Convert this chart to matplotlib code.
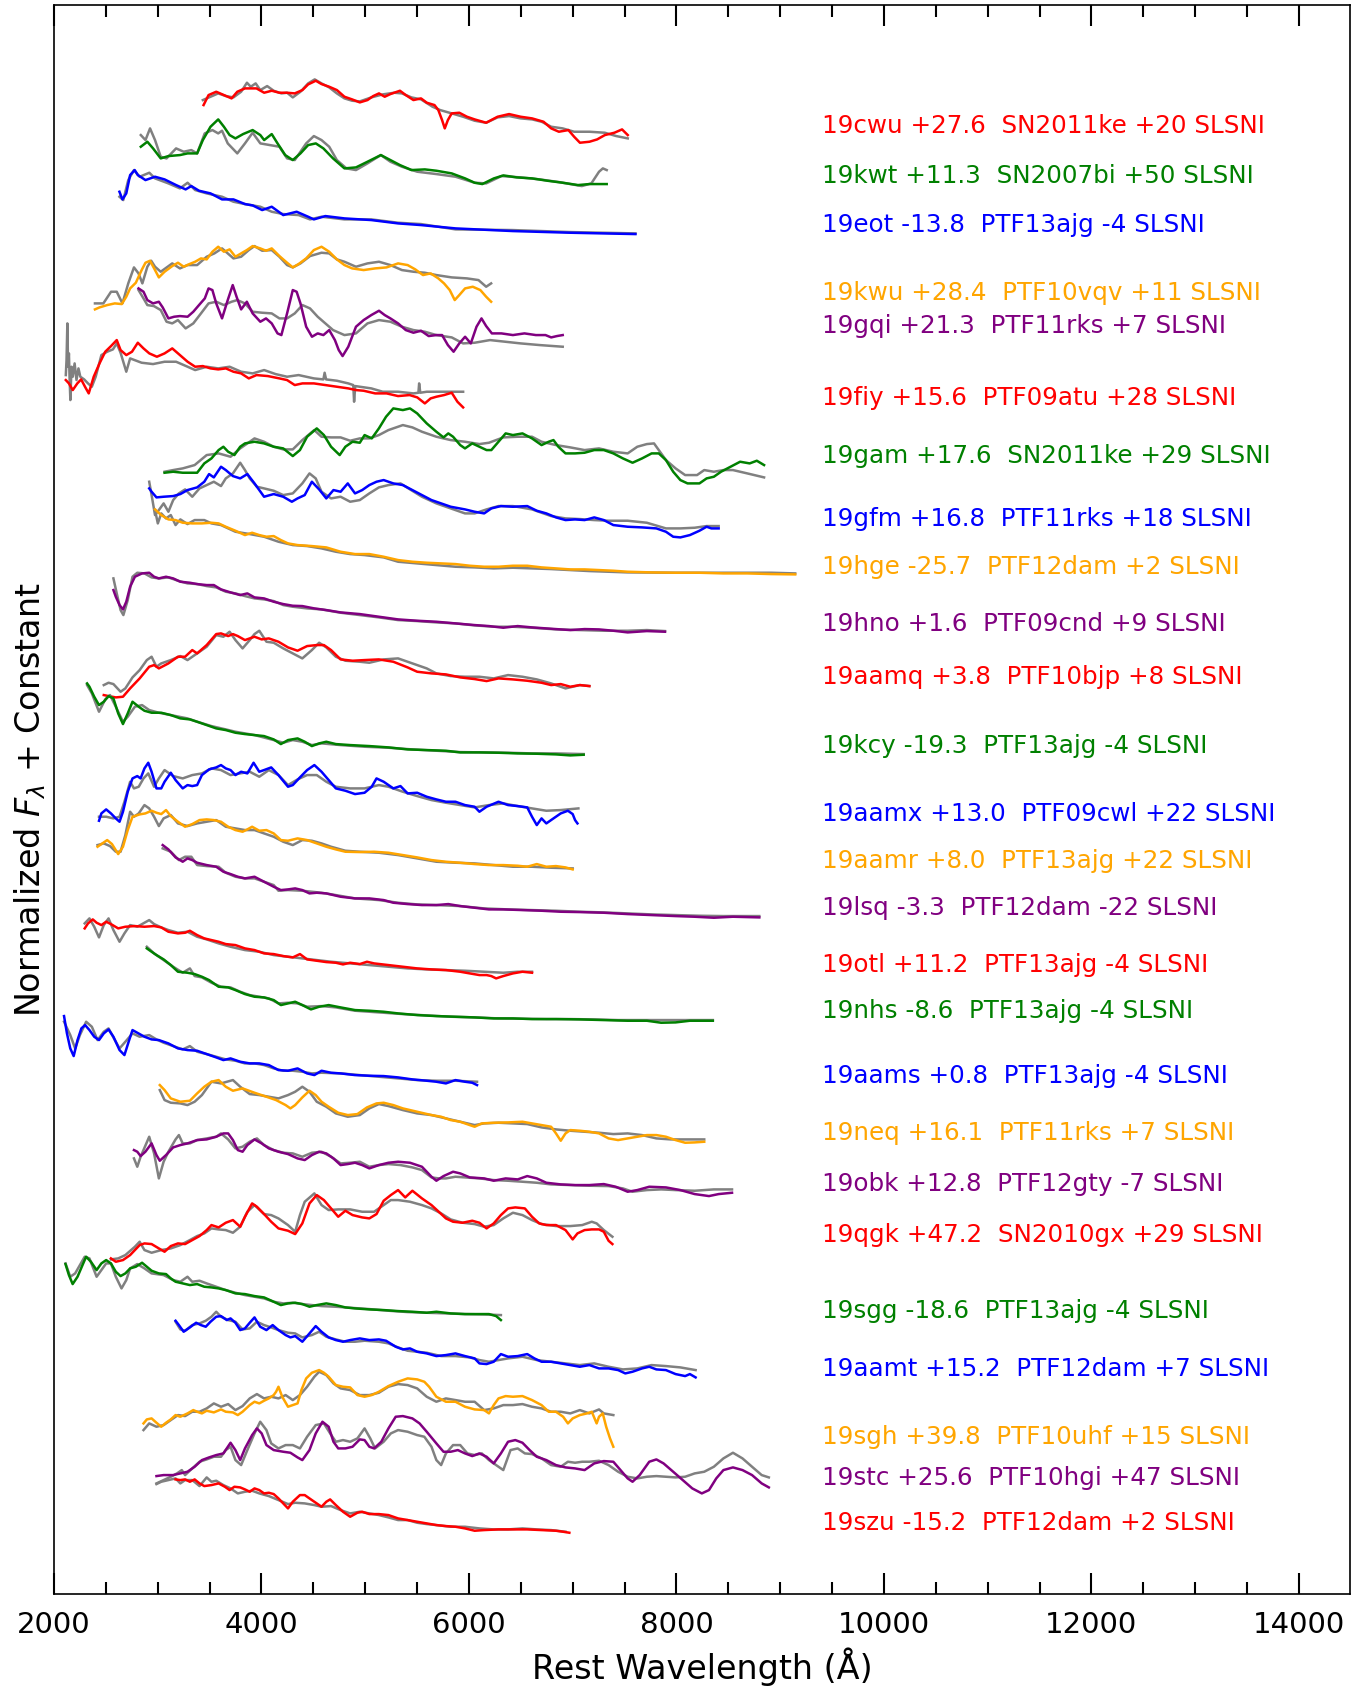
import sys
import numpy as np
import matplotlib
matplotlib.use("Agg")
import matplotlib.pyplot as plt
from matplotlib.ticker import MultipleLocator

# rest wavelength (A) and normalized flux for each object (w, f) and its template (tw, tf)

# 19cwu / SN2011ke
cwu_w = [3442, 3490, 3564, 3638, 3712, 3767, 3841, 3952, 4026, 4099, 4173, 4247, 4321, 4395, 4450, 4524, 4579, 4653, 4727, 4800, 4874, 4948, 5022, 5077, 5133, 5188, 5243, 5335, 5391, 5465, 5538, 5594, 5668, 5705, 5741, 5767, 5797, 5834, 5907, 5981, 6055, 6166, 6276, 6387, 6498, 6609, 6719, 6793, 6867, 6959, 7014, 7070, 7162, 7236, 7310, 7402, 7476, 7531]
cwu_f = [0.865, 0.895, 0.905, 0.895, 0.885, 0.905, 0.915, 0.915, 0.902, 0.908, 0.902, 0.902, 0.900, 0.910, 0.927, 0.938, 0.928, 0.920, 0.910, 0.890, 0.882, 0.873, 0.880, 0.892, 0.900, 0.890, 0.898, 0.908, 0.895, 0.880, 0.885, 0.872, 0.865, 0.850, 0.820, 0.795, 0.820, 0.840, 0.842, 0.830, 0.822, 0.812, 0.830, 0.838, 0.830, 0.825, 0.815, 0.795, 0.785, 0.790, 0.770, 0.752, 0.755, 0.762, 0.775, 0.782, 0.792, 0.775]
cwu_tw = [3435, 3509, 3583, 3657, 3730, 3804, 3860, 3897, 3944, 3989, 4055, 4118, 4192, 4247, 4302, 4376, 4450, 4513, 4579, 4653, 4727, 4800, 4874, 4948, 5059, 5169, 5280, 5354, 5446, 5538, 5649, 5723, 5834, 5944, 6055, 6166, 6276, 6387, 6498, 6609, 6701, 6793, 6904, 7014, 7162, 7310, 7420, 7531]
cwu_tf = [0.880, 0.890, 0.900, 0.892, 0.888, 0.905, 0.932, 0.920, 0.930, 0.910, 0.922, 0.908, 0.900, 0.902, 0.888, 0.905, 0.930, 0.942, 0.930, 0.918, 0.900, 0.885, 0.878, 0.876, 0.888, 0.897, 0.902, 0.900, 0.888, 0.882, 0.860, 0.850, 0.840, 0.830, 0.818, 0.812, 0.828, 0.832, 0.825, 0.822, 0.815, 0.800, 0.795, 0.785, 0.785, 0.782, 0.772, 0.765]

# 19kwt / SN2007bi
kwt_w = [2837, 2900, 2955, 3029, 3103, 3214, 3288, 3380, 3435, 3509, 3583, 3638, 3693, 3749, 3823, 3915, 3989, 4026, 4099, 4155, 4229, 4302, 4376, 4450, 4524, 4597, 4690, 4800, 4911, 5022, 5151, 5243, 5335, 5446, 5575, 5686, 5834, 5963, 6055, 6129, 6240, 6332, 6461, 6609, 6756, 6904, 7051, 7162, 7328]
kwt_f = [0.740, 0.755, 0.735, 0.705, 0.712, 0.715, 0.720, 0.720, 0.760, 0.800, 0.822, 0.800, 0.775, 0.765, 0.778, 0.790, 0.775, 0.760, 0.778, 0.750, 0.715, 0.700, 0.720, 0.745, 0.750, 0.735, 0.705, 0.675, 0.678, 0.695, 0.715, 0.700, 0.685, 0.670, 0.672, 0.668, 0.660, 0.645, 0.632, 0.628, 0.645, 0.654, 0.648, 0.645, 0.638, 0.632, 0.625, 0.628, 0.628]
kwt_tw = [2837, 2882, 2926, 2974, 3029, 3085, 3177, 3251, 3324, 3380, 3453, 3527, 3583, 3620, 3675, 3767, 3841, 3915, 3989, 4081, 4173, 4247, 4321, 4431, 4505, 4579, 4653, 4727, 4819, 4911, 5022, 5151, 5243, 5354, 5502, 5686, 5871, 6055, 6166, 6313, 6498, 6682, 6867, 7088, 7180, 7254, 7291, 7328]
kwt_tf = [0.775, 0.760, 0.795, 0.760, 0.710, 0.705, 0.735, 0.725, 0.730, 0.720, 0.780, 0.790, 0.780, 0.788, 0.750, 0.720, 0.750, 0.782, 0.750, 0.745, 0.740, 0.705, 0.700, 0.750, 0.772, 0.760, 0.740, 0.700, 0.675, 0.670, 0.690, 0.715, 0.695, 0.680, 0.665, 0.658, 0.650, 0.632, 0.630, 0.652, 0.648, 0.642, 0.634, 0.622, 0.630, 0.665, 0.675, 0.670]

# 19eot / PTF13ajg
eot_w = [2631, 2660, 2697, 2734, 2778, 2808, 2882, 2974, 3066, 3177, 3269, 3324, 3398, 3509, 3620, 3730, 3841, 3915, 4007, 4099, 4210, 4339, 4450, 4505, 4616, 4800, 5059, 5317, 5538, 5871, 6424, 6978, 7605]
eot_f = [0.605, 0.582, 0.600, 0.655, 0.670, 0.655, 0.640, 0.650, 0.642, 0.625, 0.612, 0.622, 0.608, 0.600, 0.582, 0.582, 0.568, 0.564, 0.550, 0.560, 0.535, 0.545, 0.530, 0.522, 0.532, 0.525, 0.520, 0.510, 0.505, 0.495, 0.487, 0.482, 0.478]
eot_tw = [2631, 2668, 2716, 2771, 2826, 2919, 2974, 3103, 3214, 3288, 3361, 3472, 3620, 3730, 3841, 3989, 4099, 4210, 4358, 4468, 4579, 4800, 5059, 5317, 5538, 5871, 6424, 6978, 7605]
eot_tf = [0.590, 0.580, 0.640, 0.670, 0.650, 0.662, 0.645, 0.630, 0.615, 0.632, 0.610, 0.600, 0.590, 0.575, 0.568, 0.560, 0.545, 0.538, 0.535, 0.522, 0.530, 0.522, 0.522, 0.512, 0.508, 0.492, 0.490, 0.484, 0.480]

# 19kwu / PTF10vqv
kwu_w = [2395, 2439, 2513, 2586, 2653, 2697, 2734, 2789, 2845, 2882, 2926, 2974, 3011, 3066, 3140, 3195, 3251, 3306, 3361, 3417, 3472, 3527, 3583, 3638, 3693, 3749, 3804, 3859, 3915, 3989, 4044, 4099, 4173, 4247, 4302, 4358, 4431, 4505, 4579, 4653, 4727, 4800, 4874, 4985, 5096, 5206, 5317, 5409, 5483, 5557, 5631, 5705, 5760, 5815, 5863, 5907, 5963, 6037, 6110, 6166, 6214]
kwu_f = [0.732, 0.738, 0.745, 0.750, 0.748, 0.770, 0.795, 0.812, 0.850, 0.872, 0.878, 0.850, 0.828, 0.845, 0.862, 0.872, 0.860, 0.868, 0.875, 0.885, 0.882, 0.905, 0.920, 0.905, 0.912, 0.890, 0.900, 0.910, 0.922, 0.915, 0.908, 0.915, 0.892, 0.872, 0.858, 0.868, 0.885, 0.910, 0.920, 0.905, 0.882, 0.865, 0.855, 0.850, 0.855, 0.858, 0.870, 0.865, 0.852, 0.835, 0.840, 0.825, 0.810, 0.790, 0.760, 0.775, 0.795, 0.800, 0.790, 0.770, 0.755]
kwu_tw = [2395, 2476, 2550, 2605, 2660, 2716, 2771, 2815, 2852, 2900, 2937, 2974, 3029, 3140, 3214, 3288, 3380, 3472, 3546, 3620, 3675, 3730, 3804, 3878, 3933, 4007, 4099, 4173, 4247, 4302, 4376, 4468, 4579, 4653, 4727, 4800, 4911, 5022, 5133, 5243, 5354, 5465, 5575, 5686, 5834, 5981, 6092, 6166, 6214]
kwu_tf = [0.750, 0.750, 0.785, 0.785, 0.750, 0.810, 0.858, 0.840, 0.810, 0.860, 0.878, 0.860, 0.845, 0.870, 0.855, 0.865, 0.865, 0.890, 0.900, 0.915, 0.900, 0.885, 0.890, 0.910, 0.922, 0.908, 0.910, 0.890, 0.865, 0.858, 0.870, 0.892, 0.902, 0.900, 0.882, 0.875, 0.860, 0.870, 0.875, 0.865, 0.850, 0.845, 0.842, 0.835, 0.828, 0.825, 0.820, 0.800, 0.810]

# 19gqi / PTF11rks
gqi_w = [2815, 2863, 2900, 2955, 3011, 3048, 3103, 3158, 3214, 3288, 3343, 3398, 3454, 3490, 3527, 3564, 3620, 3675, 3723, 3760, 3804, 3859, 3915, 3989, 4044, 4099, 4155, 4192, 4247, 4302, 4339, 4376, 4431, 4487, 4542, 4597, 4653, 4708, 4745, 4782, 4837, 4911, 4985, 5059, 5133, 5188, 5243, 5317, 5391, 5465, 5538, 5612, 5686, 5741, 5797, 5852, 5907, 5963, 6018, 6073, 6121, 6166, 6221, 6313, 6424, 6535, 6645, 6738, 6793, 6848, 6904]
gqi_f = [0.795, 0.785, 0.760, 0.750, 0.755, 0.738, 0.705, 0.710, 0.712, 0.710, 0.725, 0.745, 0.765, 0.795, 0.790, 0.750, 0.705, 0.760, 0.805, 0.770, 0.732, 0.755, 0.720, 0.695, 0.705, 0.690, 0.660, 0.655, 0.720, 0.790, 0.785, 0.750, 0.680, 0.650, 0.660, 0.655, 0.670, 0.640, 0.610, 0.592, 0.620, 0.680, 0.700, 0.715, 0.728, 0.715, 0.705, 0.690, 0.670, 0.662, 0.668, 0.652, 0.655, 0.655, 0.625, 0.605, 0.630, 0.650, 0.630, 0.680, 0.705, 0.682, 0.660, 0.660, 0.655, 0.660, 0.655, 0.655, 0.648, 0.652, 0.655]
gqi_tw = [2815, 2863, 2900, 2963, 3029, 3085, 3140, 3195, 3269, 3343, 3417, 3490, 3564, 3638, 3712, 3767, 3841, 3915, 4007, 4099, 4173, 4247, 4321, 4395, 4468, 4542, 4616, 4690, 4800, 4911, 5022, 5133, 5243, 5354, 5465, 5575, 5686, 5834, 5944, 6055, 6203, 6350, 6498, 6682, 6904]
gqi_tf = [0.790, 0.765, 0.745, 0.742, 0.730, 0.695, 0.690, 0.700, 0.675, 0.690, 0.720, 0.750, 0.755, 0.745, 0.755, 0.760, 0.750, 0.725, 0.722, 0.720, 0.705, 0.705, 0.720, 0.745, 0.735, 0.710, 0.690, 0.670, 0.655, 0.660, 0.690, 0.700, 0.695, 0.680, 0.670, 0.665, 0.655, 0.648, 0.630, 0.632, 0.640, 0.635, 0.630, 0.625, 0.620]

# 19fiy / PTF09atu
fiy_w = [2114, 2144, 2181, 2225, 2262, 2299, 2335, 2383, 2439, 2494, 2550, 2605, 2642, 2697, 2752, 2808, 2863, 2919, 2992, 3066, 3140, 3214, 3288, 3361, 3435, 3509, 3583, 3657, 3730, 3804, 3878, 3952, 4062, 4173, 4247, 4321, 4395, 4505, 4616, 4727, 4837, 4911, 4985, 5096, 5206, 5317, 5428, 5502, 5575, 5631, 5686, 5760, 5834, 5889, 5944]
fiy_f = [0.520, 0.510, 0.490, 0.510, 0.522, 0.500, 0.480, 0.530, 0.570, 0.605, 0.622, 0.640, 0.610, 0.595, 0.605, 0.632, 0.615, 0.600, 0.590, 0.600, 0.615, 0.595, 0.575, 0.560, 0.562, 0.555, 0.552, 0.555, 0.545, 0.540, 0.525, 0.535, 0.532, 0.525, 0.520, 0.505, 0.510, 0.510, 0.505, 0.500, 0.495, 0.490, 0.488, 0.480, 0.480, 0.472, 0.475, 0.468, 0.450, 0.465, 0.470, 0.475, 0.482, 0.455, 0.438]
fiy_tw = [2114, 2121, 2129, 2136, 2144, 2151, 2158, 2169, 2181, 2199, 2217, 2236, 2254, 2291, 2328, 2365, 2402, 2457, 2513, 2568, 2605, 2642, 2697, 2734, 2845, 2955, 3066, 3177, 3288, 3361, 3472, 3583, 3693, 3804, 3915, 4026, 4136, 4247, 4358, 4505, 4597, 4609, 4623, 4727, 4837, 4885, 4893, 4904, 4948, 5059, 5169, 5317, 5465, 5513, 5520, 5531, 5594, 5723, 5834, 5944]
fiy_tf = [0.535, 0.580, 0.690, 0.560, 0.600, 0.520, 0.460, 0.560, 0.530, 0.570, 0.520, 0.555, 0.530, 0.522, 0.510, 0.500, 0.530, 0.595, 0.605, 0.612, 0.630, 0.602, 0.545, 0.585, 0.572, 0.568, 0.575, 0.575, 0.560, 0.550, 0.560, 0.555, 0.560, 0.545, 0.540, 0.550, 0.538, 0.530, 0.535, 0.525, 0.522, 0.542, 0.522, 0.518, 0.510, 0.505, 0.455, 0.502, 0.500, 0.495, 0.485, 0.485, 0.480, 0.482, 0.510, 0.482, 0.485, 0.485, 0.485, 0.485]

# 19gam / SN2011ke
gam_w = [3066, 3149, 3241, 3380, 3449, 3518, 3587, 3633, 3679, 3739, 3795, 3841, 3933, 4025, 4118, 4210, 4302, 4371, 4440, 4533, 4602, 4671, 4754, 4809, 4878, 4948, 4994, 5063, 5132, 5201, 5271, 5363, 5432, 5501, 5593, 5686, 5755, 5801, 5847, 5916, 5962, 6032, 6101, 6170, 6216, 6285, 6354, 6424, 6516, 6608, 6700, 6769, 6815, 6862, 6931, 7023, 7115, 7208, 7300, 7392, 7484, 7577, 7669, 7761, 7830, 7899, 7969, 8038, 8107, 8222, 8291, 8361, 8430, 8522, 8614, 8706, 8775, 8845]
gam_f = [0.782, 0.785, 0.782, 0.782, 0.810, 0.825, 0.850, 0.860, 0.845, 0.835, 0.860, 0.870, 0.875, 0.870, 0.860, 0.855, 0.832, 0.850, 0.890, 0.915, 0.895, 0.860, 0.835, 0.860, 0.875, 0.872, 0.895, 0.885, 0.915, 0.950, 0.975, 0.970, 0.975, 0.960, 0.930, 0.905, 0.888, 0.900, 0.890, 0.865, 0.855, 0.870, 0.860, 0.850, 0.850, 0.875, 0.900, 0.895, 0.900, 0.885, 0.865, 0.875, 0.880, 0.860, 0.840, 0.840, 0.842, 0.850, 0.850, 0.840, 0.825, 0.812, 0.825, 0.840, 0.840, 0.820, 0.785, 0.760, 0.750, 0.750, 0.765, 0.770, 0.785, 0.800, 0.815, 0.810, 0.818, 0.805]
gam_tw = [3066, 3149, 3241, 3356, 3472, 3587, 3702, 3795, 3933, 4025, 4118, 4210, 4302, 4394, 4509, 4579, 4671, 4763, 4855, 4948, 5040, 5132, 5224, 5363, 5455, 5547, 5686, 5824, 5962, 6101, 6193, 6331, 6470, 6608, 6700, 6839, 6977, 7115, 7254, 7392, 7530, 7623, 7715, 7784, 7830, 7899, 7992, 8084, 8199, 8268, 8361, 8453, 8545, 8683, 8845]
gam_tf = [0.785, 0.790, 0.795, 0.805, 0.835, 0.840, 0.830, 0.855, 0.885, 0.875, 0.860, 0.852, 0.852, 0.880, 0.910, 0.890, 0.888, 0.888, 0.878, 0.885, 0.885, 0.895, 0.910, 0.925, 0.918, 0.905, 0.890, 0.880, 0.875, 0.868, 0.872, 0.888, 0.890, 0.890, 0.875, 0.865, 0.858, 0.850, 0.855, 0.845, 0.840, 0.860, 0.868, 0.870, 0.850, 0.820, 0.795, 0.775, 0.775, 0.790, 0.785, 0.790, 0.790, 0.780, 0.768]

# 19gfm / PTF11rks
gfm_w = [2918, 2941, 2988, 3057, 3149, 3218, 3287, 3380, 3449, 3495, 3541, 3610, 3656, 3725, 3795, 3864, 3933, 4025, 4118, 4210, 4293, 4348, 4417, 4486, 4556, 4625, 4694, 4763, 4832, 4902, 4971, 5040, 5109, 5178, 5271, 5363, 5455, 5547, 5639, 5732, 5824, 5962, 6055, 6147, 6216, 6308, 6424, 6562, 6654, 6746, 6839, 6931, 7023, 7115, 7208, 7300, 7392, 7530, 7669, 7807, 7899, 7969, 8038, 8130, 8222, 8291, 8337, 8407]
gfm_f = [0.735, 0.725, 0.708, 0.710, 0.712, 0.718, 0.730, 0.738, 0.755, 0.778, 0.768, 0.800, 0.790, 0.772, 0.765, 0.778, 0.750, 0.710, 0.718, 0.710, 0.695, 0.705, 0.715, 0.755, 0.732, 0.705, 0.730, 0.725, 0.750, 0.720, 0.730, 0.745, 0.755, 0.760, 0.750, 0.745, 0.730, 0.715, 0.700, 0.690, 0.680, 0.672, 0.665, 0.660, 0.675, 0.682, 0.680, 0.682, 0.668, 0.660, 0.648, 0.640, 0.642, 0.640, 0.648, 0.640, 0.625, 0.620, 0.618, 0.615, 0.605, 0.590, 0.588, 0.595, 0.608, 0.620, 0.615, 0.615]
gfm_tw = [2918, 2941, 2974, 3011, 3057, 3103, 3149, 3204, 3264, 3333, 3403, 3472, 3541, 3610, 3656, 3725, 3795, 3841, 3887, 3956, 4025, 4118, 4210, 4302, 4394, 4463, 4523, 4579, 4671, 4763, 4855, 4948, 5040, 5132, 5224, 5340, 5432, 5547, 5686, 5824, 5962, 6055, 6170, 6285, 6424, 6608, 6792, 6931, 7069, 7208, 7346, 7530, 7715, 7899, 8038, 8176, 8291, 8407]
gfm_tf = [0.755, 0.715, 0.655, 0.670, 0.690, 0.665, 0.700, 0.720, 0.732, 0.710, 0.735, 0.745, 0.755, 0.742, 0.765, 0.780, 0.812, 0.790, 0.765, 0.740, 0.735, 0.728, 0.715, 0.720, 0.750, 0.780, 0.765, 0.725, 0.705, 0.710, 0.695, 0.700, 0.720, 0.738, 0.745, 0.750, 0.732, 0.710, 0.690, 0.675, 0.660, 0.660, 0.672, 0.682, 0.682, 0.672, 0.652, 0.645, 0.643, 0.640, 0.638, 0.638, 0.632, 0.615, 0.615, 0.617, 0.622, 0.622]

# 19hge / PTF12dam
hge_w = [2974, 3034, 3103, 3172, 3241, 3333, 3426, 3518, 3587, 3656, 3749, 3841, 3910, 3979, 4048, 4118, 4187, 4256, 4348, 4486, 4625, 4763, 4902, 5040, 5178, 5317, 5455, 5593, 5732, 5870, 6008, 6147, 6285, 6424, 6562, 6700, 6839, 6977, 7115, 7254, 7392, 7530, 7761, 7992, 8222, 8453, 8683, 8914, 9145]
hge_f = [0.672, 0.655, 0.642, 0.640, 0.632, 0.630, 0.630, 0.632, 0.630, 0.620, 0.608, 0.595, 0.602, 0.595, 0.590, 0.592, 0.580, 0.570, 0.565, 0.562, 0.558, 0.545, 0.538, 0.538, 0.530, 0.520, 0.515, 0.512, 0.510, 0.508, 0.503, 0.500, 0.500, 0.503, 0.503, 0.498, 0.495, 0.492, 0.492, 0.490, 0.488, 0.485, 0.483, 0.482, 0.482, 0.480, 0.480, 0.478, 0.477]
hge_tw = [2974, 3001, 3034, 3080, 3126, 3172, 3218, 3287, 3356, 3449, 3518, 3610, 3749, 3887, 4025, 4164, 4302, 4440, 4579, 4717, 4855, 4994, 5178, 5317, 5501, 5686, 5870, 6055, 6239, 6424, 6608, 6792, 6977, 7161, 7346, 7530, 7992, 8453, 8914, 9145]
hge_tf = [0.670, 0.630, 0.660, 0.645, 0.655, 0.625, 0.642, 0.628, 0.640, 0.640, 0.630, 0.625, 0.605, 0.598, 0.590, 0.575, 0.565, 0.562, 0.555, 0.545, 0.538, 0.535, 0.528, 0.515, 0.510, 0.505, 0.500, 0.498, 0.495, 0.497, 0.495, 0.493, 0.490, 0.487, 0.485, 0.483, 0.482, 0.482, 0.482, 0.480]

# 19hno / PTF09cnd
hno_w = [2573, 2596, 2632, 2665, 2697, 2734, 2780, 2849, 2918, 2965, 3011, 3080, 3149, 3218, 3310, 3380, 3472, 3541, 3610, 3702, 3795, 3864, 3933, 4025, 4118, 4210, 4302, 4394, 4509, 4625, 4763, 4948, 5132, 5317, 5501, 5686, 5870, 6055, 6193, 6331, 6470, 6608, 6792, 6977, 7115, 7254, 7392, 7530, 7715, 7890]
hno_f = [0.910, 0.890, 0.865, 0.852, 0.875, 0.920, 0.950, 0.960, 0.962, 0.950, 0.945, 0.950, 0.945, 0.935, 0.932, 0.928, 0.925, 0.925, 0.912, 0.903, 0.895, 0.900, 0.888, 0.885, 0.875, 0.868, 0.863, 0.862, 0.855, 0.850, 0.843, 0.838, 0.830, 0.822, 0.818, 0.815, 0.810, 0.805, 0.802, 0.797, 0.802, 0.798, 0.794, 0.790, 0.793, 0.792, 0.788, 0.783, 0.787, 0.785]
hno_tw = [2573, 2605, 2642, 2669, 2711, 2757, 2803, 2872, 2941, 3011, 3103, 3195, 3287, 3380, 3472, 3564, 3656, 3749, 3841, 3933, 4025, 4118, 4210, 4302, 4440, 4579, 4763, 4948, 5132, 5317, 5501, 5686, 5870, 6055, 6239, 6424, 6608, 6839, 7069, 7300, 7530, 7715, 7890]
hno_tf = [0.945, 0.900, 0.850, 0.835, 0.880, 0.950, 0.962, 0.960, 0.948, 0.945, 0.948, 0.938, 0.930, 0.928, 0.922, 0.918, 0.905, 0.900, 0.892, 0.885, 0.882, 0.877, 0.865, 0.860, 0.855, 0.852, 0.842, 0.835, 0.828, 0.820, 0.817, 0.813, 0.810, 0.804, 0.800, 0.800, 0.797, 0.792, 0.790, 0.788, 0.788, 0.790, 0.787]

# 19aamq / PTF10bjp
aamq_w = [2480, 2526, 2596, 2665, 2734, 2826, 2918, 2965, 3011, 3103, 3195, 3264, 3333, 3380, 3472, 3564, 3610, 3679, 3725, 3772, 3841, 3933, 4002, 4071, 4164, 4256, 4348, 4440, 4533, 4602, 4671, 4763, 4878, 4994, 5132, 5271, 5409, 5501, 5639, 5778, 5916, 6055, 6170, 6285, 6424, 6562, 6700, 6792, 6885, 6977, 7069, 7161]
aamq_f = [0.595, 0.592, 0.588, 0.590, 0.615, 0.645, 0.680, 0.685, 0.675, 0.690, 0.710, 0.710, 0.730, 0.720, 0.745, 0.778, 0.780, 0.772, 0.778, 0.772, 0.760, 0.770, 0.762, 0.765, 0.755, 0.738, 0.728, 0.742, 0.745, 0.745, 0.730, 0.702, 0.698, 0.700, 0.702, 0.695, 0.678, 0.665, 0.660, 0.657, 0.648, 0.643, 0.637, 0.645, 0.642, 0.638, 0.632, 0.625, 0.628, 0.620, 0.625, 0.622]
aamq_tw = [2480, 2526, 2573, 2642, 2688, 2757, 2826, 2895, 2941, 2988, 3034, 3126, 3218, 3287, 3380, 3472, 3564, 3633, 3693, 3749, 3818, 3887, 3933, 3979, 4048, 4118, 4210, 4302, 4394, 4486, 4556, 4625, 4717, 4809, 4948, 5040, 5178, 5317, 5455, 5593, 5686, 5824, 5962, 6101, 6239, 6377, 6516, 6654, 6792, 6931, 7069, 7161]
aamq_tf = [0.625, 0.632, 0.628, 0.605, 0.615, 0.648, 0.670, 0.700, 0.710, 0.680, 0.690, 0.700, 0.712, 0.700, 0.720, 0.740, 0.775, 0.770, 0.785, 0.760, 0.735, 0.760, 0.778, 0.788, 0.755, 0.752, 0.735, 0.720, 0.705, 0.730, 0.752, 0.738, 0.710, 0.698, 0.695, 0.692, 0.702, 0.705, 0.690, 0.675, 0.660, 0.652, 0.650, 0.650, 0.645, 0.655, 0.650, 0.642, 0.630, 0.615, 0.625, 0.622]

# 19kcy / PTF13ajg
kcy_w = [2319, 2342, 2388, 2434, 2480, 2526, 2573, 2619, 2665, 2711, 2757, 2817, 2872, 2941, 3034, 3126, 3218, 3310, 3380, 3472, 3564, 3656, 3749, 3841, 3933, 4025, 4118, 4187, 4256, 4348, 4417, 4486, 4556, 4625, 4717, 4855, 5040, 5224, 5409, 5593, 5778, 5916, 6101, 6285, 6470, 6654, 6839, 6977, 7106]
kcy_f = [0.630, 0.620, 0.590, 0.565, 0.575, 0.592, 0.585, 0.540, 0.508, 0.540, 0.575, 0.560, 0.548, 0.542, 0.542, 0.535, 0.525, 0.522, 0.515, 0.505, 0.495, 0.490, 0.482, 0.478, 0.475, 0.472, 0.462, 0.448, 0.460, 0.465, 0.455, 0.442, 0.450, 0.455, 0.448, 0.445, 0.442, 0.438, 0.432, 0.430, 0.428, 0.423, 0.423, 0.422, 0.420, 0.419, 0.417, 0.414, 0.416]
kcy_tw = [2319, 2365, 2434, 2494, 2540, 2596, 2665, 2711, 2780, 2849, 2918, 3011, 3126, 3287, 3380, 3518, 3656, 3749, 3933, 4118, 4210, 4302, 4394, 4486, 4579, 4763, 4994, 5224, 5455, 5686, 5916, 6147, 6377, 6608, 6839, 7106]
kcy_tf = [0.625, 0.600, 0.545, 0.582, 0.595, 0.560, 0.515, 0.530, 0.560, 0.565, 0.550, 0.542, 0.535, 0.525, 0.515, 0.502, 0.492, 0.485, 0.475, 0.460, 0.452, 0.460, 0.455, 0.445, 0.450, 0.445, 0.440, 0.437, 0.432, 0.428, 0.424, 0.423, 0.422, 0.420, 0.420, 0.418]

# 19aamx / PTF09cwl
aamx_w = [2434, 2457, 2503, 2549, 2596, 2632, 2665, 2711, 2757, 2803, 2835, 2872, 2909, 2941, 2988, 3034, 3066, 3126, 3172, 3241, 3287, 3333, 3380, 3426, 3495, 3564, 3610, 3656, 3702, 3749, 3804, 3864, 3924, 3979, 4025, 4094, 4164, 4256, 4302, 4371, 4440, 4510, 4579, 4648, 4717, 4809, 4902, 4994, 5063, 5109, 5178, 5271, 5340, 5409, 5501, 5593, 5686, 5778, 5870, 5962, 6055, 6101, 6170, 6285, 6377, 6470, 6562, 6608, 6654, 6700, 6746, 6815, 6885, 6954, 7000, 7023, 7046]
aamx_f = [0.698, 0.720, 0.732, 0.720, 0.705, 0.695, 0.725, 0.785, 0.825, 0.832, 0.825, 0.855, 0.872, 0.845, 0.795, 0.795, 0.815, 0.842, 0.820, 0.795, 0.805, 0.802, 0.805, 0.835, 0.852, 0.858, 0.865, 0.855, 0.850, 0.835, 0.845, 0.840, 0.872, 0.845, 0.850, 0.858, 0.835, 0.800, 0.805, 0.828, 0.850, 0.865, 0.845, 0.820, 0.795, 0.788, 0.778, 0.782, 0.800, 0.825, 0.815, 0.795, 0.802, 0.780, 0.782, 0.770, 0.762, 0.755, 0.755, 0.745, 0.740, 0.725, 0.740, 0.755, 0.745, 0.742, 0.738, 0.710, 0.685, 0.705, 0.690, 0.705, 0.720, 0.728, 0.718, 0.700, 0.690]
aamx_tw = [2434, 2503, 2573, 2632, 2679, 2734, 2771, 2817, 2863, 2909, 2965, 3011, 3066, 3149, 3241, 3333, 3426, 3518, 3610, 3702, 3795, 3887, 3979, 4071, 4164, 4256, 4348, 4440, 4533, 4625, 4717, 4855, 4994, 5132, 5224, 5363, 5501, 5639, 5778, 5916, 6055, 6193, 6331, 6470, 6608, 6746, 6885, 7055]
aamx_tf = [0.710, 0.710, 0.705, 0.710, 0.755, 0.815, 0.795, 0.800, 0.825, 0.840, 0.800, 0.825, 0.850, 0.832, 0.825, 0.835, 0.840, 0.855, 0.850, 0.835, 0.840, 0.845, 0.830, 0.850, 0.835, 0.805, 0.822, 0.835, 0.835, 0.815, 0.800, 0.795, 0.795, 0.805, 0.800, 0.785, 0.772, 0.760, 0.752, 0.745, 0.738, 0.745, 0.750, 0.742, 0.735, 0.728, 0.730, 0.735]

# 19aamr / PTF13ajg
aamr_w = [2420, 2457, 2513, 2559, 2619, 2665, 2711, 2757, 2826, 2881, 2941, 2988, 3034, 3080, 3126, 3195, 3264, 3333, 3403, 3472, 3541, 3610, 3679, 3749, 3818, 3864, 3910, 3979, 4048, 4118, 4187, 4256, 4348, 4440, 4533, 4625, 4717, 4809, 4948, 5086, 5224, 5363, 5501, 5639, 5778, 5916, 6055, 6193, 6331, 6470, 6562, 6654, 6746, 6839, 6931, 7000]
aamr_f = [0.620, 0.628, 0.640, 0.628, 0.598, 0.620, 0.670, 0.710, 0.717, 0.720, 0.728, 0.722, 0.718, 0.730, 0.712, 0.695, 0.680, 0.688, 0.700, 0.702, 0.700, 0.695, 0.680, 0.670, 0.665, 0.672, 0.680, 0.668, 0.670, 0.660, 0.640, 0.638, 0.645, 0.640, 0.630, 0.620, 0.612, 0.605, 0.604, 0.605, 0.602, 0.595, 0.588, 0.580, 0.575, 0.572, 0.568, 0.565, 0.565, 0.563, 0.560, 0.568, 0.560, 0.562, 0.558, 0.552]
aamr_tw = [2420, 2480, 2540, 2596, 2642, 2688, 2734, 2771, 2817, 2872, 2918, 2965, 3011, 3057, 3126, 3195, 3287, 3380, 3472, 3564, 3656, 3749, 3841, 3933, 4025, 4118, 4210, 4302, 4394, 4486, 4579, 4671, 4809, 4948, 5132, 5317, 5501, 5686, 5870, 6055, 6239, 6424, 6608, 6792, 7000]
aamr_tf = [0.625, 0.630, 0.622, 0.605, 0.605, 0.655, 0.725, 0.710, 0.720, 0.745, 0.735, 0.710, 0.682, 0.705, 0.715, 0.690, 0.682, 0.690, 0.695, 0.700, 0.680, 0.675, 0.670, 0.670, 0.660, 0.650, 0.635, 0.625, 0.640, 0.638, 0.630, 0.620, 0.608, 0.605, 0.602, 0.595, 0.585, 0.575, 0.572, 0.570, 0.565, 0.560, 0.560, 0.557, 0.555]

# 19lsq / PTF12dam
lsq_w = [3048, 3103, 3172, 3241, 3287, 3333, 3380, 3472, 3564, 3633, 3702, 3772, 3841, 3933, 4025, 4118, 4187, 4256, 4325, 4394, 4463, 4533, 4625, 4763, 4902, 5040, 5178, 5271, 5409, 5547, 5686, 5801, 5916, 6055, 6193, 6331, 6516, 6700, 6885, 7069, 7300, 7530, 7761, 7992, 8176, 8361, 8545, 8799]
lsq_f = [0.625, 0.612, 0.588, 0.575, 0.585, 0.580, 0.572, 0.565, 0.560, 0.545, 0.538, 0.530, 0.525, 0.530, 0.515, 0.500, 0.490, 0.492, 0.495, 0.490, 0.480, 0.482, 0.480, 0.470, 0.465, 0.465, 0.460, 0.452, 0.448, 0.445, 0.445, 0.448, 0.442, 0.437, 0.432, 0.432, 0.430, 0.428, 0.425, 0.424, 0.422, 0.418, 0.415, 0.412, 0.410, 0.407, 0.410, 0.408]
lsq_tw = [3048, 3126, 3204, 3264, 3324, 3380, 3472, 3587, 3656, 3749, 3841, 3933, 4025, 4118, 4164, 4256, 4394, 4486, 4579, 4717, 4902, 5132, 5317, 5501, 5686, 5916, 6147, 6377, 6608, 6839, 7069, 7300, 7530, 7761, 7992, 8222, 8453, 8799]
lsq_tf = [0.615, 0.605, 0.580, 0.590, 0.590, 0.565, 0.562, 0.560, 0.542, 0.530, 0.525, 0.525, 0.515, 0.505, 0.488, 0.490, 0.488, 0.485, 0.482, 0.475, 0.465, 0.460, 0.452, 0.447, 0.445, 0.442, 0.435, 0.432, 0.430, 0.428, 0.425, 0.423, 0.420, 0.417, 0.415, 0.413, 0.412, 0.412]

# 19otl / PTF13ajg
otl_w = [2296, 2328, 2374, 2411, 2457, 2503, 2549, 2619, 2688, 2780, 2872, 2965, 3034, 3103, 3195, 3264, 3310, 3380, 3449, 3518, 3587, 3656, 3749, 3841, 3933, 4025, 4118, 4210, 4302, 4371, 4440, 4533, 4625, 4717, 4786, 4855, 4948, 5017, 5086, 5224, 5363, 5501, 5639, 5778, 5916, 6008, 6101, 6170, 6216, 6262, 6331, 6424, 6516, 6608]
otl_f = [0.915, 0.930, 0.942, 0.932, 0.925, 0.935, 0.928, 0.915, 0.920, 0.922, 0.920, 0.922, 0.918, 0.905, 0.900, 0.902, 0.908, 0.895, 0.885, 0.880, 0.875, 0.868, 0.865, 0.855, 0.850, 0.840, 0.838, 0.832, 0.828, 0.838, 0.822, 0.818, 0.814, 0.812, 0.807, 0.812, 0.808, 0.815, 0.810, 0.805, 0.800, 0.795, 0.792, 0.790, 0.785, 0.780, 0.775, 0.775, 0.772, 0.765, 0.772, 0.780, 0.785, 0.782]
otl_tw = [2296, 2342, 2388, 2434, 2480, 2526, 2573, 2632, 2679, 2734, 2803, 2872, 2918, 2965, 3034, 3103, 3195, 3287, 3380, 3472, 3587, 3702, 3841, 3979, 4118, 4256, 4394, 4533, 4671, 4855, 5040, 5224, 5409, 5593, 5778, 5962, 6147, 6331, 6470, 6608]
otl_tf = [0.930, 0.945, 0.920, 0.888, 0.925, 0.945, 0.910, 0.875, 0.900, 0.925, 0.920, 0.932, 0.940, 0.928, 0.918, 0.910, 0.902, 0.905, 0.890, 0.882, 0.870, 0.860, 0.850, 0.845, 0.835, 0.830, 0.825, 0.820, 0.815, 0.810, 0.805, 0.800, 0.795, 0.792, 0.790, 0.788, 0.785, 0.782, 0.785, 0.785]

# 19nhs / PTF13ajg
nhs_w = [2895, 2941, 2988, 3057, 3126, 3195, 3287, 3356, 3426, 3495, 3587, 3679, 3749, 3841, 3933, 4025, 4118, 4187, 4256, 4325, 4394, 4477, 4556, 4648, 4763, 4902, 5040, 5178, 5317, 5501, 5686, 5870, 6055, 6239, 6424, 6608, 6839, 7069, 7300, 7530, 7715, 7853, 7992, 8130, 8351]
nhs_f = [0.855, 0.845, 0.835, 0.822, 0.805, 0.785, 0.782, 0.778, 0.770, 0.760, 0.740, 0.738, 0.730, 0.718, 0.710, 0.708, 0.700, 0.685, 0.690, 0.695, 0.685, 0.672, 0.680, 0.685, 0.678, 0.670, 0.668, 0.665, 0.660, 0.655, 0.652, 0.650, 0.648, 0.645, 0.645, 0.643, 0.643, 0.642, 0.640, 0.638, 0.638, 0.632, 0.633, 0.638, 0.638]
nhs_tw = [2895, 2965, 3057, 3149, 3241, 3310, 3356, 3426, 3518, 3610, 3702, 3795, 3887, 3979, 4071, 4164, 4256, 4348, 4440, 4579, 4717, 4902, 5132, 5363, 5593, 5824, 6055, 6285, 6516, 6746, 6977, 7208, 7438, 7669, 7899, 8130, 8351]
nhs_tf = [0.860, 0.840, 0.820, 0.800, 0.782, 0.795, 0.772, 0.768, 0.752, 0.740, 0.738, 0.725, 0.715, 0.710, 0.705, 0.690, 0.692, 0.690, 0.680, 0.682, 0.678, 0.668, 0.663, 0.658, 0.654, 0.650, 0.648, 0.645, 0.644, 0.643, 0.643, 0.642, 0.640, 0.640, 0.640, 0.640, 0.640]

# 19aams / PTF13ajg
aams_w = [2097, 2125, 2157, 2190, 2227, 2264, 2300, 2342, 2388, 2434, 2480, 2526, 2573, 2632, 2679, 2725, 2757, 2803, 2872, 2941, 3011, 3103, 3195, 3287, 3380, 3472, 3564, 3633, 3702, 3795, 3887, 3979, 4071, 4164, 4256, 4348, 4440, 4510, 4579, 4671, 4763, 4902, 5040, 5178, 5317, 5455, 5593, 5686, 5778, 5870, 5962, 6032, 6078]
aams_f = [0.652, 0.600, 0.555, 0.532, 0.580, 0.615, 0.625, 0.610, 0.590, 0.580, 0.600, 0.612, 0.590, 0.550, 0.535, 0.580, 0.610, 0.602, 0.590, 0.582, 0.580, 0.570, 0.555, 0.550, 0.548, 0.538, 0.528, 0.520, 0.525, 0.515, 0.510, 0.510, 0.505, 0.490, 0.488, 0.495, 0.480, 0.475, 0.488, 0.482, 0.480, 0.475, 0.473, 0.472, 0.468, 0.462, 0.458, 0.455, 0.450, 0.460, 0.455, 0.452, 0.445]
aams_tw = [2097, 2157, 2204, 2250, 2310, 2365, 2420, 2480, 2526, 2573, 2632, 2688, 2757, 2826, 2918, 2988, 3057, 3149, 3241, 3310, 3380, 3472, 3564, 3656, 3749, 3841, 3933, 4025, 4118, 4210, 4302, 4394, 4486, 4579, 4763, 4948, 5132, 5317, 5501, 5686, 5870, 6078]
aams_tf = [0.635, 0.595, 0.555, 0.595, 0.635, 0.620, 0.580, 0.605, 0.615, 0.588, 0.555, 0.575, 0.600, 0.590, 0.595, 0.582, 0.572, 0.562, 0.552, 0.562, 0.545, 0.538, 0.530, 0.522, 0.518, 0.510, 0.510, 0.505, 0.495, 0.488, 0.488, 0.485, 0.480, 0.482, 0.480, 0.475, 0.470, 0.465, 0.460, 0.458, 0.458, 0.455]

# 19neq / PTF11rks
neq_w = [3020, 3066, 3126, 3218, 3310, 3380, 3449, 3518, 3587, 3656, 3725, 3818, 3933, 4048, 4141, 4233, 4279, 4325, 4394, 4463, 4523, 4579, 4648, 4740, 4832, 4925, 5017, 5109, 5178, 5271, 5363, 5501, 5639, 5732, 5824, 5916, 6008, 6055, 6124, 6239, 6377, 6516, 6608, 6700, 6792, 6839, 6885, 6931, 6977, 7069, 7161, 7254, 7346, 7438, 7530, 7623, 7715, 7807, 7899, 7992, 8084, 8176, 8268]
neq_f = [1.015, 1.000, 0.975, 0.965, 0.968, 0.990, 1.010, 1.025, 1.030, 1.010, 0.998, 1.005, 0.992, 0.980, 0.970, 0.955, 0.945, 0.955, 0.978, 0.998, 0.985, 0.965, 0.950, 0.932, 0.925, 0.928, 0.948, 0.960, 0.962, 0.955, 0.945, 0.935, 0.925, 0.920, 0.910, 0.905, 0.895, 0.890, 0.900, 0.902, 0.903, 0.905, 0.900, 0.895, 0.890, 0.870, 0.848, 0.870, 0.880, 0.878, 0.875, 0.870, 0.855, 0.850, 0.855, 0.860, 0.865, 0.865, 0.860, 0.850, 0.842, 0.843, 0.845]
neq_tw = [3020, 3066, 3126, 3218, 3287, 3356, 3426, 3518, 3610, 3725, 3795, 3887, 3979, 4071, 4164, 4256, 4325, 4394, 4463, 4533, 4625, 4717, 4832, 4948, 5040, 5132, 5224, 5363, 5501, 5639, 5778, 5916, 6055, 6147, 6285, 6424, 6562, 6700, 6839, 6977, 7115, 7254, 7392, 7530, 7669, 7807, 7945, 8084, 8268]
neq_tf = [1.000, 0.970, 0.962, 0.960, 0.955, 0.965, 0.985, 1.025, 1.020, 1.030, 1.010, 0.988, 0.985, 0.980, 0.975, 0.985, 0.995, 1.010, 0.995, 0.965, 0.950, 0.930, 0.920, 0.925, 0.945, 0.958, 0.952, 0.940, 0.930, 0.925, 0.915, 0.905, 0.895, 0.900, 0.902, 0.900, 0.898, 0.888, 0.882, 0.878, 0.875, 0.872, 0.868, 0.870, 0.865, 0.855, 0.852, 0.852, 0.852]

# 19obk / PTF12gty
obk_w = [2771, 2803, 2835, 2881, 2941, 2988, 3020, 3080, 3149, 3218, 3287, 3380, 3472, 3564, 3633, 3679, 3725, 3772, 3818, 3864, 3933, 4002, 4071, 4164, 4256, 4348, 4417, 4486, 4556, 4625, 4694, 4763, 4832, 4902, 4971, 5040, 5132, 5224, 5317, 5432, 5547, 5639, 5686, 5755, 5847, 5916, 6008, 6147, 6239, 6354, 6470, 6562, 6654, 6746, 6885, 7023, 7161, 7300, 7415, 7530, 7623, 7738, 7899, 8038, 8176, 8314, 8407, 8536]
obk_f = [0.820, 0.815, 0.802, 0.815, 0.840, 0.805, 0.788, 0.805, 0.828, 0.835, 0.840, 0.850, 0.852, 0.860, 0.870, 0.870, 0.850, 0.820, 0.815, 0.835, 0.852, 0.840, 0.825, 0.815, 0.808, 0.795, 0.790, 0.805, 0.815, 0.810, 0.795, 0.775, 0.778, 0.782, 0.775, 0.765, 0.775, 0.782, 0.785, 0.782, 0.770, 0.740, 0.728, 0.742, 0.755, 0.750, 0.738, 0.735, 0.728, 0.735, 0.732, 0.742, 0.735, 0.722, 0.717, 0.715, 0.715, 0.718, 0.710, 0.695, 0.700, 0.710, 0.708, 0.700, 0.688, 0.682, 0.688, 0.692]
obk_tw = [2771, 2803, 2835, 2918, 2965, 3011, 3057, 3103, 3172, 3204, 3241, 3310, 3380, 3472, 3564, 3610, 3679, 3749, 3818, 3887, 3956, 4025, 4118, 4210, 4302, 4394, 4486, 4579, 4671, 4763, 4855, 4948, 5040, 5132, 5224, 5340, 5455, 5547, 5639, 5709, 5778, 5870, 5962, 6101, 6239, 6377, 6516, 6654, 6792, 6977, 7161, 7346, 7484, 7577, 7715, 7853, 7992, 8176, 8361, 8536]
obk_tf = [0.795, 0.770, 0.800, 0.860, 0.810, 0.735, 0.785, 0.815, 0.852, 0.865, 0.840, 0.840, 0.850, 0.855, 0.860, 0.870, 0.852, 0.825, 0.830, 0.845, 0.855, 0.835, 0.820, 0.812, 0.810, 0.800, 0.812, 0.815, 0.800, 0.780, 0.782, 0.785, 0.770, 0.775, 0.778, 0.775, 0.768, 0.760, 0.738, 0.735, 0.735, 0.740, 0.738, 0.735, 0.730, 0.728, 0.725, 0.722, 0.717, 0.715, 0.713, 0.712, 0.705, 0.695, 0.700, 0.702, 0.700, 0.698, 0.702, 0.702]

# 19qgk / SN2010gx
qgk_w = [2549, 2596, 2665, 2734, 2780, 2826, 2872, 2941, 3011, 3066, 3126, 3195, 3264, 3333, 3403, 3472, 3518, 3587, 3656, 3725, 3795, 3841, 3910, 3956, 4025, 4094, 4164, 4256, 4325, 4394, 4463, 4533, 4602, 4671, 4740, 4809, 4878, 4971, 5040, 5109, 5178, 5247, 5317, 5386, 5455, 5547, 5639, 5709, 5778, 5847, 5939, 6032, 6101, 6170, 6239, 6308, 6377, 6447, 6539, 6608, 6677, 6746, 6839, 6931, 7000, 7046, 7115, 7184, 7254, 7300, 7346, 7383]
qgk_f = [0.495, 0.485, 0.490, 0.505, 0.520, 0.535, 0.540, 0.538, 0.525, 0.515, 0.532, 0.540, 0.538, 0.550, 0.562, 0.580, 0.595, 0.588, 0.602, 0.610, 0.590, 0.620, 0.660, 0.650, 0.628, 0.605, 0.585, 0.578, 0.568, 0.600, 0.660, 0.685, 0.670, 0.645, 0.620, 0.638, 0.625, 0.618, 0.615, 0.628, 0.668, 0.685, 0.700, 0.678, 0.698, 0.675, 0.655, 0.635, 0.615, 0.605, 0.602, 0.608, 0.602, 0.585, 0.600, 0.625, 0.645, 0.648, 0.645, 0.620, 0.600, 0.595, 0.595, 0.580, 0.552, 0.570, 0.580, 0.582, 0.582, 0.575, 0.548, 0.538]
qgk_tw = [2549, 2619, 2688, 2780, 2826, 2872, 2941, 3034, 3126, 3218, 3310, 3380, 3449, 3518, 3587, 3656, 3725, 3795, 3864, 3933, 4025, 4094, 4164, 4256, 4325, 4371, 4417, 4510, 4579, 4648, 4740, 4855, 4971, 5086, 5178, 5247, 5317, 5432, 5547, 5639, 5732, 5824, 5939, 6055, 6147, 6239, 6331, 6424, 6516, 6608, 6700, 6839, 6977, 7092, 7184, 7231, 7300, 7383]
qgk_tf = [0.492, 0.495, 0.505, 0.530, 0.545, 0.520, 0.512, 0.520, 0.525, 0.535, 0.550, 0.562, 0.570, 0.585, 0.582, 0.580, 0.572, 0.590, 0.635, 0.655, 0.628, 0.625, 0.615, 0.595, 0.575, 0.625, 0.665, 0.690, 0.655, 0.640, 0.642, 0.642, 0.635, 0.635, 0.655, 0.670, 0.670, 0.665, 0.655, 0.645, 0.630, 0.612, 0.602, 0.598, 0.590, 0.595, 0.615, 0.632, 0.625, 0.610, 0.598, 0.592, 0.592, 0.595, 0.605, 0.600, 0.580, 0.560]

# 19sgg / PTF13ajg
sgg_w = [2111, 2144, 2180, 2227, 2282, 2310, 2356, 2411, 2457, 2503, 2549, 2596, 2642, 2688, 2734, 2789, 2849, 2895, 2941, 3011, 3080, 3126, 3172, 3241, 3310, 3380, 3449, 3518, 3587, 3656, 3749, 3841, 3933, 4025, 4118, 4187, 4256, 4325, 4394, 4463, 4533, 4625, 4717, 4809, 4902, 5040, 5178, 5317, 5455, 5593, 5686, 5824, 5962, 6101, 6193, 6262, 6308]
sgg_f = [0.958, 0.925, 0.898, 0.920, 0.960, 0.980, 0.965, 0.940, 0.960, 0.970, 0.960, 0.935, 0.922, 0.930, 0.945, 0.950, 0.962, 0.950, 0.938, 0.930, 0.928, 0.915, 0.905, 0.900, 0.895, 0.898, 0.890, 0.888, 0.885, 0.880, 0.870, 0.868, 0.862, 0.858, 0.845, 0.835, 0.840, 0.842, 0.838, 0.830, 0.835, 0.840, 0.835, 0.828, 0.825, 0.822, 0.820, 0.817, 0.815, 0.812, 0.815, 0.810, 0.808, 0.808, 0.808, 0.802, 0.790]
sgg_tw = [2111, 2157, 2204, 2250, 2296, 2342, 2411, 2457, 2503, 2549, 2596, 2651, 2697, 2734, 2803, 2872, 2941, 3057, 3149, 3218, 3287, 3333, 3403, 3472, 3564, 3656, 3749, 3841, 3933, 4025, 4118, 4210, 4302, 4394, 4486, 4579, 4717, 4855, 5040, 5224, 5409, 5593, 5778, 5962, 6147, 6308]
sgg_tf = [0.960, 0.920, 0.930, 0.955, 0.980, 0.975, 0.920, 0.940, 0.960, 0.960, 0.920, 0.885, 0.910, 0.945, 0.958, 0.945, 0.930, 0.925, 0.910, 0.905, 0.920, 0.905, 0.908, 0.900, 0.890, 0.880, 0.872, 0.865, 0.860, 0.855, 0.845, 0.840, 0.842, 0.838, 0.835, 0.832, 0.830, 0.827, 0.823, 0.818, 0.814, 0.812, 0.810, 0.808, 0.807, 0.805]

# 19aamt / PTF12dam
aamt_w = [3172, 3204, 3250, 3310, 3370, 3416, 3463, 3509, 3564, 3610, 3666, 3702, 3749, 3795, 3841, 3887, 3933, 3988, 4048, 4108, 4164, 4233, 4279, 4325, 4394, 4463, 4523, 4579, 4648, 4717, 4786, 4855, 4948, 5040, 5132, 5201, 5294, 5363, 5432, 5501, 5593, 5686, 5778, 5870, 5962, 6055, 6101, 6170, 6239, 6308, 6377, 6470, 6562, 6631, 6700, 6792, 6885, 6977, 7069, 7161, 7254, 7346, 7438, 7507, 7577, 7669, 7738, 7807, 7899, 7992, 8084, 8130, 8185]
aamt_f = [0.788, 0.775, 0.755, 0.768, 0.782, 0.775, 0.770, 0.785, 0.800, 0.802, 0.790, 0.795, 0.782, 0.760, 0.765, 0.782, 0.798, 0.770, 0.760, 0.775, 0.760, 0.745, 0.738, 0.742, 0.725, 0.750, 0.772, 0.755, 0.738, 0.730, 0.725, 0.730, 0.735, 0.730, 0.732, 0.728, 0.710, 0.702, 0.705, 0.695, 0.690, 0.682, 0.685, 0.690, 0.682, 0.675, 0.660, 0.658, 0.665, 0.688, 0.680, 0.682, 0.688, 0.675, 0.665, 0.665, 0.660, 0.655, 0.650, 0.655, 0.645, 0.645, 0.640, 0.630, 0.635, 0.645, 0.650, 0.642, 0.640, 0.628, 0.622, 0.628, 0.618]
aamt_tw = [3172, 3218, 3264, 3333, 3403, 3463, 3518, 3564, 3610, 3679, 3749, 3818, 3887, 3956, 4025, 4094, 4164, 4256, 4325, 4394, 4486, 4556, 4625, 4717, 4809, 4902, 4994, 5132, 5224, 5317, 5409, 5501, 5593, 5732, 5870, 6008, 6101, 6193, 6285, 6377, 6516, 6654, 6792, 6931, 7069, 7208, 7346, 7484, 7623, 7761, 7899, 8038, 8185]
aamt_tf = [0.785, 0.762, 0.758, 0.775, 0.780, 0.788, 0.800, 0.815, 0.800, 0.790, 0.785, 0.762, 0.765, 0.785, 0.775, 0.768, 0.760, 0.752, 0.750, 0.738, 0.745, 0.755, 0.740, 0.732, 0.725, 0.725, 0.728, 0.725, 0.720, 0.708, 0.698, 0.695, 0.692, 0.682, 0.682, 0.678, 0.670, 0.665, 0.670, 0.675, 0.680, 0.670, 0.665, 0.660, 0.655, 0.660, 0.650, 0.642, 0.645, 0.655, 0.652, 0.648, 0.640]

# 19sgh / PTF10uhf
sgh_w = [2863, 2895, 2941, 2988, 3034, 3080, 3126, 3172, 3218, 3287, 3343, 3380, 3426, 3472, 3541, 3610, 3656, 3725, 3772, 3818, 3887, 3933, 3979, 4025, 4071, 4118, 4141, 4164, 4200, 4256, 4302, 4348, 4385, 4431, 4486, 4556, 4602, 4648, 4717, 4786, 4855, 4925, 4994, 5063, 5132, 5224, 5317, 5409, 5501, 5570, 5616, 5686, 5778, 5870, 5962, 6055, 6147, 6193, 6239, 6285, 6354, 6424, 6516, 6608, 6700, 6769, 6839, 6908, 6954, 7000, 7069, 7138, 7184, 7231, 7254, 7290, 7323, 7360, 7392]
sgh_f = [0.870, 0.882, 0.885, 0.872, 0.860, 0.872, 0.882, 0.895, 0.890, 0.900, 0.910, 0.905, 0.900, 0.908, 0.903, 0.912, 0.905, 0.903, 0.895, 0.905, 0.925, 0.935, 0.930, 0.938, 0.945, 0.955, 0.965, 0.980, 0.950, 0.920, 0.925, 0.930, 0.970, 1.005, 1.022, 1.030, 1.022, 1.010, 0.985, 0.980, 0.978, 0.955, 0.950, 0.955, 0.965, 0.982, 0.995, 1.005, 1.002, 0.995, 0.980, 0.950, 0.935, 0.935, 0.920, 0.912, 0.910, 0.900, 0.925, 0.945, 0.952, 0.950, 0.952, 0.940, 0.925, 0.905, 0.905, 0.890, 0.870, 0.885, 0.895, 0.900, 0.905, 0.870, 0.890, 0.900, 0.860, 0.825, 0.800]
sgh_tw = [2863, 2918, 2988, 3057, 3126, 3195, 3264, 3333, 3403, 3472, 3541, 3610, 3679, 3749, 3818, 3887, 3956, 4025, 4094, 4164, 4233, 4302, 4371, 4440, 4510, 4556, 4625, 4694, 4763, 4855, 4948, 5040, 5132, 5224, 5317, 5409, 5501, 5593, 5686, 5778, 5870, 5962, 6055, 6147, 6239, 6331, 6424, 6516, 6608, 6700, 6792, 6885, 6977, 7069, 7161, 7254, 7300, 7392]
sgh_tf = [0.850, 0.870, 0.860, 0.865, 0.880, 0.895, 0.892, 0.905, 0.905, 0.915, 0.930, 0.920, 0.928, 0.910, 0.922, 0.945, 0.958, 0.945, 0.950, 0.945, 0.955, 0.940, 0.955, 0.980, 1.010, 1.025, 1.015, 0.990, 0.975, 0.970, 0.955, 0.955, 0.962, 0.980, 0.988, 0.985, 0.975, 0.950, 0.935, 0.945, 0.940, 0.935, 0.935, 0.910, 0.915, 0.925, 0.925, 0.928, 0.920, 0.915, 0.905, 0.905, 0.900, 0.910, 0.900, 0.912, 0.900, 0.895]

# 19stc / PTF10hgi
stc_w = [2988, 3057, 3149, 3218, 3287, 3356, 3426, 3495, 3564, 3633, 3702, 3749, 3795, 3841, 3910, 3956, 4002, 4048, 4118, 4210, 4279, 4348, 4394, 4463, 4523, 4588, 4648, 4694, 4740, 4809, 4878, 4948, 4994, 5040, 5086, 5155, 5224, 5294, 5363, 5455, 5524, 5593, 5686, 5755, 5824, 5893, 5962, 6032, 6101, 6170, 6239, 6308, 6377, 6447, 6516, 6585, 6654, 6746, 6839, 6931, 7023, 7115, 7208, 7300, 7392, 7461, 7530, 7577, 7646, 7738, 7807, 7876, 7969, 8061, 8153, 8245, 8314, 8384, 8453, 8545, 8637, 8729, 8822, 8891]
stc_f = [0.712, 0.715, 0.715, 0.720, 0.725, 0.740, 0.760, 0.768, 0.775, 0.780, 0.812, 0.790, 0.760, 0.795, 0.835, 0.855, 0.840, 0.805, 0.790, 0.785, 0.782, 0.768, 0.760, 0.790, 0.840, 0.875, 0.860, 0.815, 0.795, 0.795, 0.800, 0.822, 0.820, 0.800, 0.795, 0.815, 0.855, 0.890, 0.892, 0.885, 0.870, 0.845, 0.810, 0.785, 0.785, 0.790, 0.780, 0.772, 0.780, 0.770, 0.750, 0.780, 0.815, 0.820, 0.812, 0.790, 0.770, 0.760, 0.745, 0.738, 0.735, 0.730, 0.750, 0.757, 0.755, 0.730, 0.705, 0.695, 0.715, 0.755, 0.762, 0.750, 0.725, 0.700, 0.675, 0.660, 0.670, 0.705, 0.730, 0.738, 0.730, 0.715, 0.690, 0.678]
stc_tw = [2988, 3057, 3126, 3186, 3232, 3264, 3333, 3403, 3472, 3541, 3610, 3656, 3702, 3749, 3804, 3864, 3933, 3988, 4048, 4094, 4164, 4233, 4302, 4371, 4440, 4523, 4602, 4662, 4717, 4786, 4855, 4925, 4994, 5049, 5095, 5178, 5247, 5317, 5409, 5501, 5570, 5639, 5686, 5732, 5778, 5847, 5916, 5985, 6055, 6124, 6193, 6262, 6331, 6401, 6470, 6539, 6608, 6700, 6792, 6885, 6954, 7023, 7092, 7161, 7254, 7346, 7438, 7530, 7623, 7715, 7807, 7899, 7992, 8084, 8176, 8268, 8361, 8453, 8545, 8637, 8729, 8822, 8891]
stc_tf = [0.690, 0.700, 0.710, 0.720, 0.730, 0.715, 0.735, 0.755, 0.762, 0.770, 0.770, 0.790, 0.800, 0.760, 0.745, 0.790, 0.840, 0.875, 0.850, 0.810, 0.795, 0.805, 0.805, 0.795, 0.830, 0.865, 0.870, 0.840, 0.815, 0.820, 0.815, 0.825, 0.855, 0.825, 0.795, 0.815, 0.840, 0.850, 0.845, 0.835, 0.830, 0.800, 0.760, 0.745, 0.780, 0.805, 0.805, 0.780, 0.775, 0.780, 0.760, 0.745, 0.730, 0.790, 0.795, 0.780, 0.778, 0.765, 0.745, 0.740, 0.755, 0.752, 0.755, 0.755, 0.758, 0.745, 0.725, 0.710, 0.705, 0.710, 0.712, 0.710, 0.708, 0.710, 0.720, 0.725, 0.740, 0.765, 0.782, 0.765, 0.740, 0.715, 0.708]

# 19szu / PTF12dam
szu_w = [3172, 3218, 3264, 3310, 3356, 3403, 3449, 3518, 3587, 3647, 3693, 3739, 3795, 3841, 3887, 3933, 3979, 4025, 4071, 4118, 4164, 4210, 4256, 4302, 4371, 4417, 4486, 4533, 4579, 4625, 4662, 4717, 4786, 4855, 4925, 4971, 5040, 5132, 5224, 5317, 5409, 5501, 5593, 5686, 5778, 5870, 5962, 6055, 6147, 6285, 6424, 6562, 6700, 6839, 6908, 6968]
szu_f = [0.702, 0.700, 0.702, 0.695, 0.702, 0.690, 0.682, 0.685, 0.690, 0.680, 0.670, 0.680, 0.678, 0.672, 0.665, 0.675, 0.670, 0.660, 0.662, 0.658, 0.645, 0.630, 0.615, 0.635, 0.655, 0.655, 0.640, 0.630, 0.620, 0.635, 0.642, 0.625, 0.605, 0.590, 0.602, 0.605, 0.598, 0.598, 0.595, 0.585, 0.580, 0.575, 0.570, 0.565, 0.562, 0.560, 0.555, 0.548, 0.550, 0.552, 0.552, 0.552, 0.550, 0.548, 0.545, 0.542]
szu_tw = [2988, 3034, 3103, 3172, 3218, 3264, 3333, 3403, 3472, 3518, 3564, 3633, 3702, 3772, 3841, 3910, 3979, 4071, 4164, 4256, 4325, 4417, 4510, 4579, 4671, 4763, 4855, 4948, 5040, 5132, 5224, 5317, 5409, 5501, 5593, 5686, 5824, 5962, 6101, 6239, 6377, 6516, 6654, 6792, 6931]
szu_tf = [0.688, 0.695, 0.700, 0.705, 0.690, 0.700, 0.700, 0.682, 0.708, 0.695, 0.698, 0.685, 0.675, 0.660, 0.665, 0.668, 0.660, 0.652, 0.640, 0.628, 0.632, 0.630, 0.625, 0.620, 0.622, 0.610, 0.600, 0.605, 0.600, 0.595, 0.588, 0.580, 0.580, 0.572, 0.568, 0.565, 0.560, 0.560, 0.555, 0.552, 0.552, 0.555, 0.552, 0.550, 0.545]

labels = [
    "19cwu +27.6  SN2011ke +20 SLSNI", "19kwt +11.3  SN2007bi +50 SLSNI",
    "19eot -13.8  PTF13ajg -4 SLSNI", "19kwu +28.4  PTF10vqv +11 SLSNI",
    "19gqi +21.3  PTF11rks +7 SLSNI", "19fiy +15.6  PTF09atu +28 SLSNI",
    "19gam +17.6  SN2011ke +29 SLSNI", "19gfm +16.8  PTF11rks +18 SLSNI",
    "19hge -25.7  PTF12dam +2 SLSNI", "19hno +1.6  PTF09cnd +9 SLSNI",
    "19aamq +3.8  PTF10bjp +8 SLSNI", "19kcy -19.3  PTF13ajg -4 SLSNI",
    "19aamx +13.0  PTF09cwl +22 SLSNI", "19aamr +8.0  PTF13ajg +22 SLSNI",
    "19lsq -3.3  PTF12dam -22 SLSNI", "19otl +11.2  PTF13ajg -4 SLSNI",
    "19nhs -8.6  PTF13ajg -4 SLSNI", "19aams +0.8  PTF13ajg -4 SLSNI",
    "19neq +16.1  PTF11rks +7 SLSNI", "19obk +12.8  PTF12gty -7 SLSNI",
    "19qgk +47.2  SN2010gx +29 SLSNI", "19sgg -18.6  PTF13ajg -4 SLSNI",
    "19aamt +15.2  PTF12dam +7 SLSNI", "19sgh +39.8  PTF10uhf +15 SLSNI",
    "19stc +25.6  PTF10hgi +47 SLSNI", "19szu -15.2  PTF12dam +2 SLSNI",
]
spectra = [
    (cwu_w, cwu_f, cwu_tw, cwu_tf), (kwt_w, kwt_f, kwt_tw, kwt_tf),
    (eot_w, eot_f, eot_tw, eot_tf), (kwu_w, kwu_f, kwu_tw, kwu_tf),
    (gqi_w, gqi_f, gqi_tw, gqi_tf), (fiy_w, fiy_f, fiy_tw, fiy_tf),
    (gam_w, gam_f, gam_tw, gam_tf), (gfm_w, gfm_f, gfm_tw, gfm_tf),
    (hge_w, hge_f, hge_tw, hge_tf), (hno_w, hno_f, hno_tw, hno_tf),
    (aamq_w, aamq_f, aamq_tw, aamq_tf), (kcy_w, kcy_f, kcy_tw, kcy_tf),
    (aamx_w, aamx_f, aamx_tw, aamx_tf), (aamr_w, aamr_f, aamr_tw, aamr_tf),
    (lsq_w, lsq_f, lsq_tw, lsq_tf), (otl_w, otl_f, otl_tw, otl_tf),
    (nhs_w, nhs_f, nhs_tw, nhs_tf), (aams_w, aams_f, aams_tw, aams_tf),
    (neq_w, neq_f, neq_tw, neq_tf), (obk_w, obk_f, obk_tw, obk_tf),
    (qgk_w, qgk_f, qgk_tw, qgk_tf), (sgg_w, sgg_f, sgg_tw, sgg_tf),
    (aamt_w, aamt_f, aamt_tw, aamt_tf), (sgh_w, sgh_f, sgh_tw, sgh_tf),
    (stc_w, stc_f, stc_tw, stc_tf), (szu_w, szu_f, szu_tw, szu_tf),
]
# additive constants, one per object
offsets = [4.102, 4.102, 4.102, 3.622, 3.622, 3.622, 3.082, 3.082, 3.082,
           2.602, 2.602, 2.602, 2.122, 2.122, 2.122, 1.582, 1.582, 1.582,
           1.012, 1.012, 1.012, 0.532, 0.532, 0.142, 0.142, 0.142]
label_y = [4.904, 4.755, 4.607, 4.403, 4.303, 4.087, 3.915, 3.725, 3.582,
           3.411, 3.250, 3.043, 2.839, 2.700, 2.558, 2.387, 2.248, 2.054,
           1.883, 1.731, 1.576, 1.350, 1.175, 0.972, 0.849, 0.713]
cycle = ["red", "green", "blue", "orange", "purple"]
colors = [cycle[i % 5] for i in range(len(labels))]


def draw(ax, w, f, off, color, name):
    n = min(len(w), len(f))
    if len(w) != len(f):
        print("length mismatch", name, len(w), len(f), file=sys.stderr)
    ax.plot(w[:n], off + np.array(f[:n]), color=color, lw=1.8)


fig = plt.figure(figsize=(13.7, 16.89), dpi=100)
ax = fig.add_axes([0.0394, 0.0562, 0.9460, 0.9408])

for i, ((w, f, tw, tf), c, off) in enumerate(zip(spectra, colors, offsets)):
    draw(ax, tw, tf, off, "grey", labels[i] + " tmpl")
    draw(ax, w, f, off, c, labels[i])

for lab, c, y in zip(labels, colors, label_y):
    ax.text(9400, y, lab, color=c, fontsize=17.7, va="center", ha="left")

ax.set_xlim(2000, 14493)
ax.set_ylim(0.5, 5.267)
ax.set_yticks([])
ax.xaxis.set_major_locator(MultipleLocator(2000))
ax.xaxis.set_minor_locator(MultipleLocator(500))
ax.tick_params(axis="x", which="both", direction="in", top=True, bottom=True,
               labelsize=21, width=1.5, pad=12)
ax.tick_params(axis="x", which="major", length=15)
ax.tick_params(axis="x", which="minor", length=8.5)
for s in ax.spines.values():
    s.set_linewidth(1.2)

ax.set_xlabel("Rest Wavelength (Å)", fontsize=24, labelpad=6)
ax.set_ylabel(r"Normalized $F_{\lambda}$ + Constant", fontsize=24)

fig.savefig("out.png", dpi=100)
